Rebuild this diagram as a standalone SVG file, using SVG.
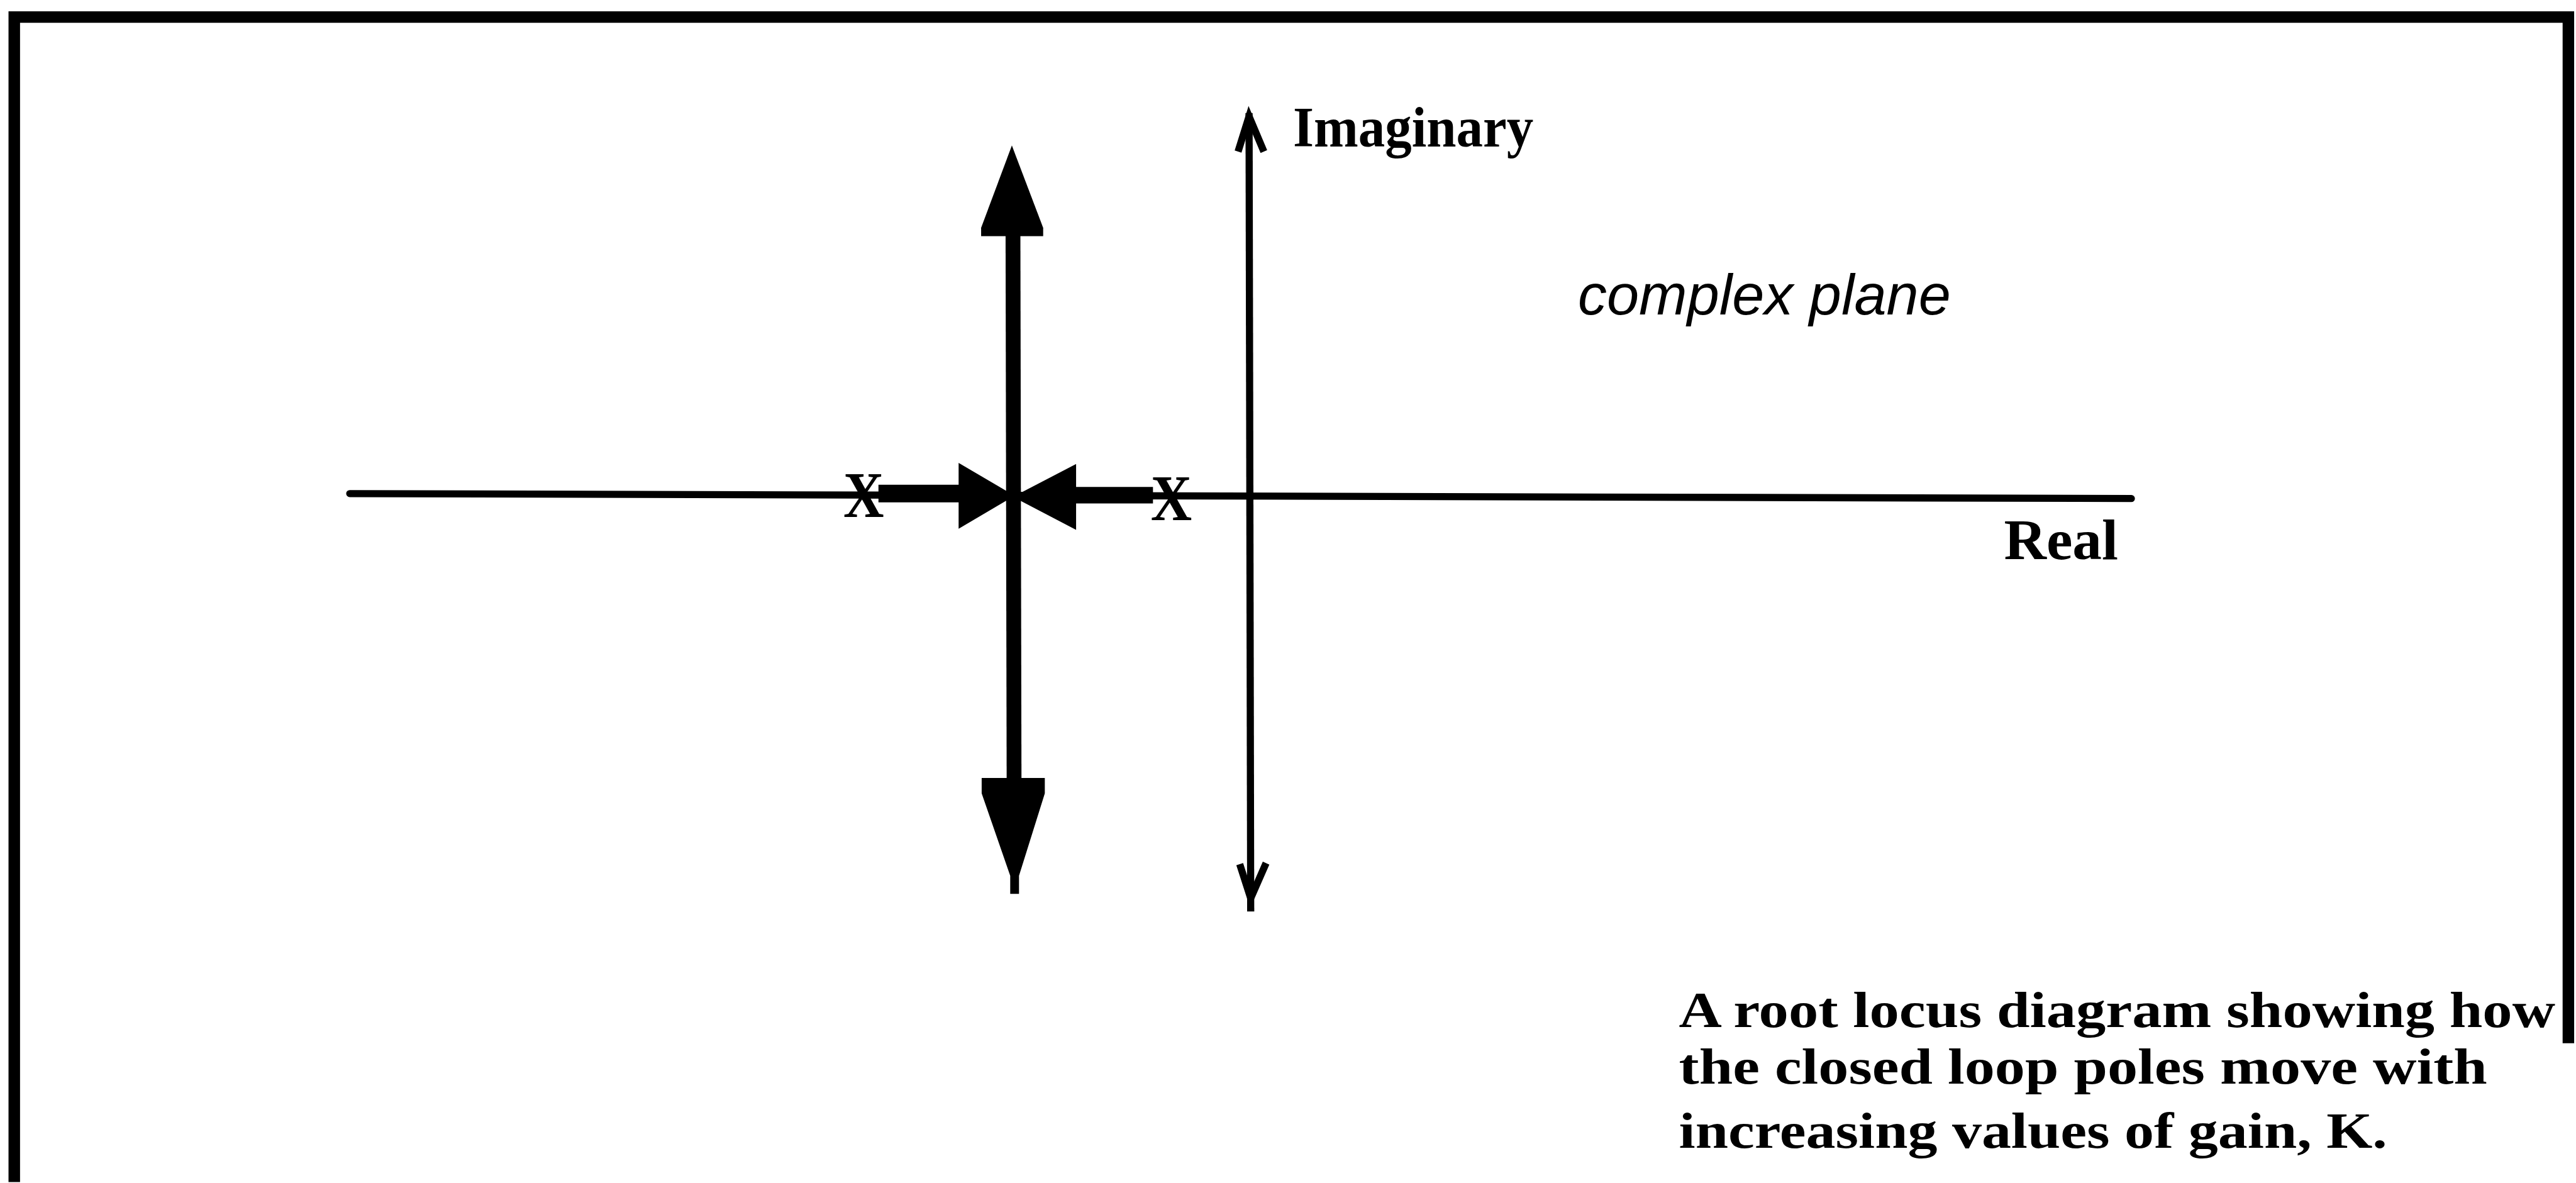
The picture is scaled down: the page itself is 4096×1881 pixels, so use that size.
<svg xmlns="http://www.w3.org/2000/svg" width="4096" height="1881" viewBox="0 0 4096 1881">
<style>
.lbl{font-family:"Liberation Serif","Times New Roman",serif;font-weight:bold;font-size:105px;fill:#000}
.cap{font-family:"Liberation Serif","Times New Roman",serif;font-weight:bold;font-size:92px;fill:#000}
.it{font-family:"Liberation Sans",Arial,sans-serif;font-style:italic;font-size:105px;fill:#000}
.thin{stroke:#000;fill:none;stroke-width:13}
.thick{stroke:#000;fill:none}
.head{fill:#000;stroke:none}
.pole{font-family:"Liberation Serif","Times New Roman",serif;font-weight:bold;font-size:120px;fill:#000}
</style>
<rect width="4096" height="1881" fill="#fff"/>
<g transform="scale(0.873)">
  <g id="frame">
    <path d="M26,2153 V31 H4678 V1900" fill="none" stroke="#000" stroke-width="21"/>
  </g>
  <g id="connectors">
    <line id="real-axis" x1="637" y1="899" x2="3882" y2="908" class="thin" stroke-width="15" stroke-linecap="round"/>
    <line id="imag-axis" x1="2275" y1="206" x2="2278" y2="1660" class="thin" stroke-width="12"/>
    <polyline points="2255,276 2275,212 2302,276" class="thin" stroke-width="11"/>
    <polyline points="2258,1574 2278,1636 2306,1572" class="thin" stroke-width="12"/>
    <line x1="1845" y1="420" x2="1847" y2="1425" class="thick" stroke-width="27"/>
    <polygon class="head" points="1843,265 1900,415 1900,430 1787,430 1787,415"/>
    <polygon class="head" points="1788,1417 1903,1417 1903,1445 1856,1595 1856,1628 1840,1628 1840,1595 1788,1445"/>
    <line x1="1600" y1="899" x2="1750" y2="899" class="thick" stroke-width="32"/>
    <polygon class="head" points="1746,843 1746,963 1848,903"/>
    <line x1="1955" y1="902" x2="2100" y2="902" class="thick" stroke-width="30"/>
    <polygon class="head" points="1960,845 1960,965 1845,905"/>
  </g>
  <g id="pole-left"><text class="pole" x="1536" y="942" textLength="74" lengthAdjust="spacingAndGlyphs">X</text></g>
  <g id="pole-right"><text class="pole" x="2096" y="947" textLength="75" lengthAdjust="spacingAndGlyphs">X</text></g>
  <g id="labels">
    <text class="lbl" x="2355" y="267" textLength="438" lengthAdjust="spacingAndGlyphs">Imaginary</text>
    <text class="lbl" x="3650" y="1018" textLength="208" lengthAdjust="spacingAndGlyphs">Real</text>
    <text class="it" x="2874" y="573" textLength="679" lengthAdjust="spacingAndGlyphs">complex plane</text>
    <text class="cap" x="3058" y="1870" textLength="1596" lengthAdjust="spacingAndGlyphs">A root locus diagram showing how</text>
    <text class="cap" x="3058" y="1974" textLength="1472" lengthAdjust="spacingAndGlyphs">the closed loop poles move with</text>
    <text class="cap" x="3058" y="2090" textLength="1290" lengthAdjust="spacingAndGlyphs">increasing values of gain, K.</text>
  </g>
</g>
</svg>
